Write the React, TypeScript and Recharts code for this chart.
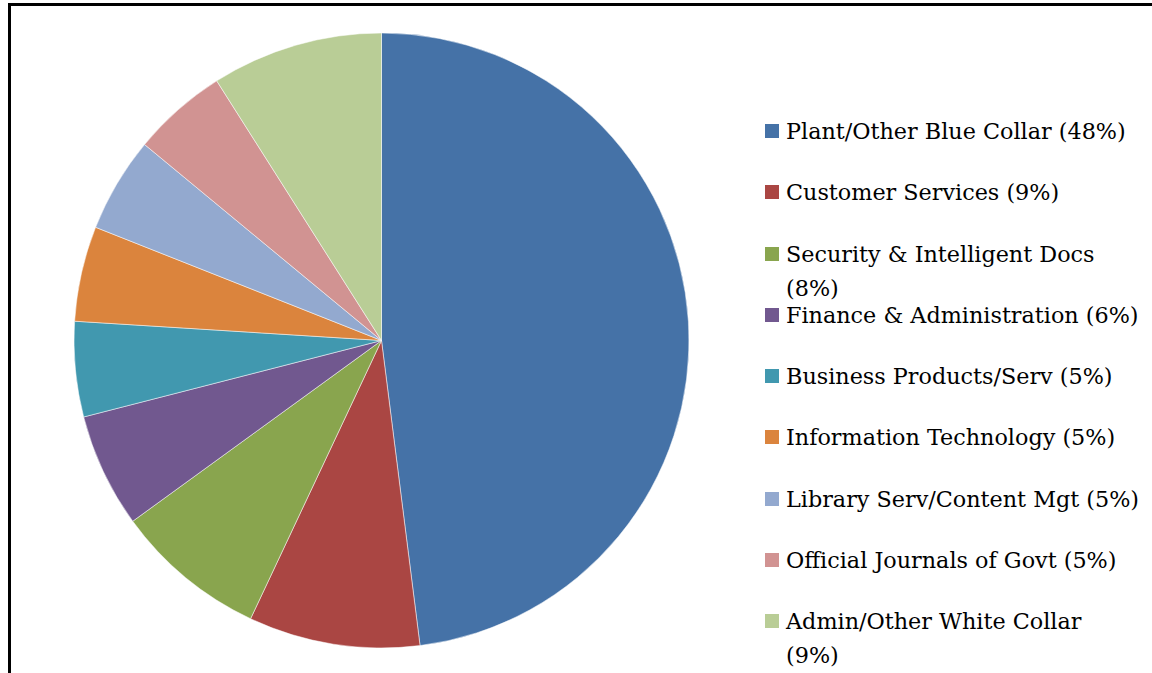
import { PieChart, Pie, Cell, Legend } from "recharts"

const categories = [
  "Plant/Other Blue Collar",
  "Customer Services",
  "Security & Intelligent Docs",
  "Finance & Administration",
  "Business Products/Serv",
  "Information Technology",
  "Library Serv/Content Mgt",
  "Official Journals of Govt",
  "Admin/Other White Collar",
]
const shares = [48, 9, 8, 6, 5, 5, 5, 5, 9]
const colors = ["#4572A7", "#AA4643", "#89A54E", "#71588F", "#4198AF", "#DB843D", "#93A9CF", "#D19392", "#B9CD96"]

const data = categories.map((name, i) => ({ name: `${name} (${shares[i]}%)`, value: shares[i] }))

const FONT = "'DejaVu Serif', serif"

function LegendList() {
  return (
    <div style={{ position: "relative", width: 385, height: 560 }}>
      {data.map((d, i) => (
        <div
          key={d.name}
          style={{
            position: "absolute",
            left: 0,
            top: i * 61.25,
            display: "flex",
            alignItems: "flex-start",
            fontFamily: FONT,
            fontSize: 22.3,
            lineHeight: "34px",
            color: "#000",
          }}
        >
          <span style={{ width: 14, height: 14, marginTop: 10, marginRight: 7, background: colors[i], flex: "none" }} />
          <span style={{ width: 353.5 }}>{d.name}</span>
        </div>
      ))}
    </div>
  )
}

export default function App() {
  return (
    <div style={{ position: "absolute", left: 0, top: 0, width: 1152, height: 673, overflow: "hidden", background: "#fff" }}>
      <div style={{ position: "absolute", left: 8, top: 3, width: 1200, height: 720, border: "3px solid #000" }} />
      <div style={{ position: "absolute", left: 0, top: 0 }}>
        <PieChart width={1152} height={673} margin={{ top: 0, right: 0, bottom: 0, left: 0 }}>
          <Pie
            data={data}
            dataKey="value"
            nameKey="name"
            cx={381.5}
            cy={340.5}
            outerRadius={307.5}
            startAngle={90}
            endAngle={-270}
            stroke="#fff"
            strokeWidth={0.5}
            isAnimationActive={false}
          >
            {data.map((d, i) => (
              <Cell key={d.name} fill={colors[i]} />
            ))}
          </Pie>
          <Legend
            layout="vertical"
            verticalAlign="top"
            align="right"
            content={() => <LegendList />}
            wrapperStyle={{ left: 765, top: 114, width: 385, right: "auto" }}
          />
        </PieChart>
      </div>
    </div>
  )
}
